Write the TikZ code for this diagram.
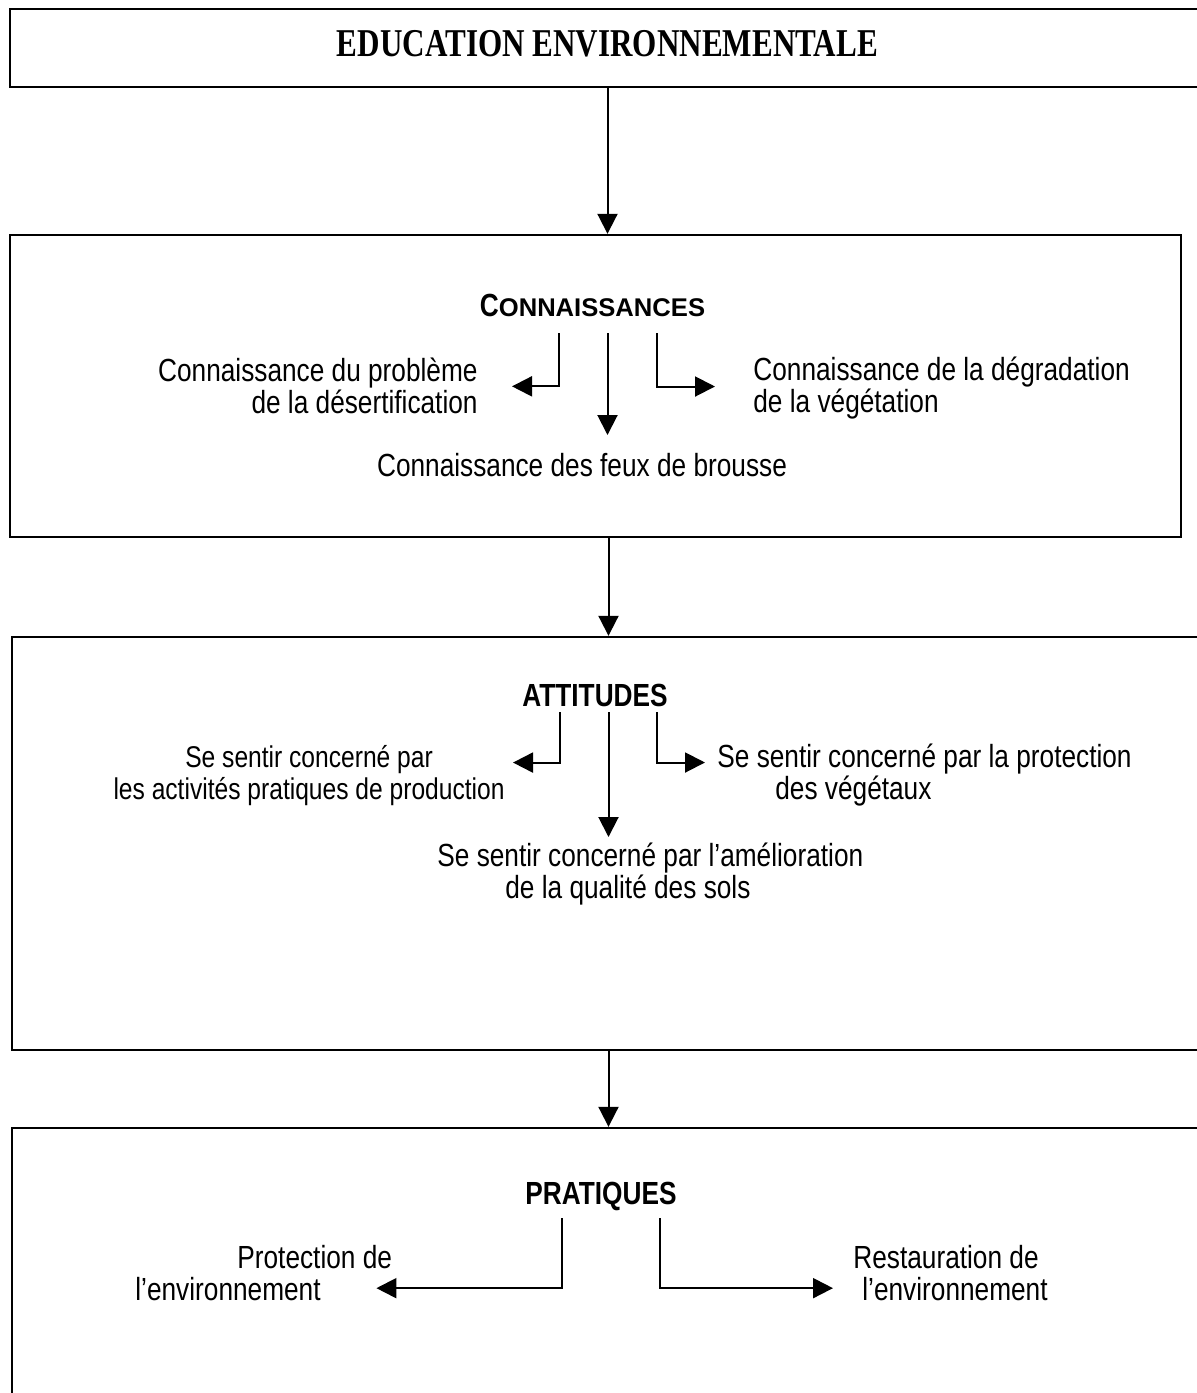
\documentclass[tikz,border=0pt]{standalone}
\usepackage{fontspec}
\usetikzlibrary{arrows.meta, positioning}
\newfontfamily\arialfont[FakeStretch=0.82]{Liberation Sans}
\newfontfamily\arialwide{Liberation Sans}
\newfontfamily\timesfont[FakeStretch=0.79]{Liberation Serif}

\tikzset{
  box/.style={draw, line width=1.2pt, inner sep=0pt},
  arr/.style={-{Triangle[length=10pt, width=10pt]}, line width=1pt},
  head/.style={font=\arialfont\bfseries\fontsize{16}{16}\selectfont, inner sep=0pt},
  txt/.style={font=\arialfont\fontsize{16}{16}\selectfont, inner sep=0pt},
}

\begin{document}
\begin{tikzpicture}[x=0.5pt, y=-0.5pt]
      \useasboundingbox (0,0) rectangle (1197,1393);

      % cadres
      \node[box, minimum width=597.5pt, minimum height=39pt, text depth=5pt,
            font=\timesfont\bfseries\fontsize{19.7}{19.7}\selectfont] (edu) at (607.5,48) {EDUCATION ENVIRONNEMENTALE};
      \node[box, minimum width=585.5pt, minimum height=151pt] (bknow) at (595.5,386) {};
      \node[box, minimum width=596.5pt, minimum height=206.5pt] (batt) at (608.5,843.5) {};
      \node[box, minimum width=596.5pt, minimum height=141pt] (bprac) at (608.5,1269) {};

      \draw[arr] (edu.south) -- (edu.south |- bknow.north);
      \draw[arr] (bknow.south -| batt.north) -- (batt.north);
      \draw[arr] (batt.south) -- (bprac.north);

      % connaissances
      \node[head] (know) at (592.5,305) {C{\arialwide\bfseries\fontsize{12.8}{16}\selectfont ONNAISSANCES}};
      \node[txt, align=right, anchor=north east] (desert) at (478,358) {Connaissance du problème\\de la désertification};
      \node[txt, align=left, anchor=north west] (degrad) at (753,357) {Connaissance de la dégradation\\de la végétation};
      \node[txt, anchor=north] (feux) at (582,453) {Connaissance des feux de brousse};

      \draw[arr, shorten >=17pt] ([shift={(-16.75pt,-8.25pt)}]know.south) |- (desert.east);
      \draw[arr, shorten >=9pt] ([yshift=-8.25pt]know.south -| edu.south) -- (feux.north -| edu.south);
      \draw[arr, shorten >=19pt] ([shift={(32.25pt,-8.25pt)}]know.south) |- ([yshift=1pt]degrad.west);

      % attitudes
      \node[head] (att) at (595,695) {ATTITUDES};
      \node[txt, font=\arialfont\fontsize{15}{16}\selectfont, align=center, anchor=north east] (prod) at (505,745) {Se sentir concerné par\\les activités pratiques de production};
      \node[txt, align=left, anchor=north west] (veg) at (717,744) {Se sentir concerné par la protection\\\hspace*{29pt}des végétaux};
      \node[txt, align=left, anchor=north west] (sols) at (437,843) {Se sentir concerné par l’amélioration\\\hspace*{34pt}de la qualité des sols};

      \draw[arr, shorten >=4pt] ([shift={(-17.5pt,-2.75pt)}]att.south) |- ([yshift=6.5pt]prod.east);
      \draw[arr, shorten >=3pt] ([yshift=-2.75pt]att.south -| batt.north) -- (sols.north -| batt.north);
      \draw[arr, shorten >=6pt] ([shift={(31pt,-2.75pt)}]att.south) |- ([yshift=6.5pt]veg.west);

      % pratiques
      \node[head] (prac) at (601,1196) {PRATIQUES};
      \node[txt, align=left, anchor=north west] (protec) at (135,1245) {\hspace*{51pt}Protection de\\l’environnement};
      \node[txt, align=left, anchor=north west] (restau) at (853,1245) {Restauration de\\\hspace*{4.5pt}l’environnement};

      \draw[arr, shorten >=-8pt] ([shift={(-19.5pt,-3.75pt)}]prac.south) |- ([yshift=-7.5pt]protec.east);
      \draw[arr, shorten >=10pt] ([shift={(29.5pt,-3.75pt)}]prac.south) |- ([yshift=-7.5pt]restau.west);
    \end{tikzpicture}
\end{document}
